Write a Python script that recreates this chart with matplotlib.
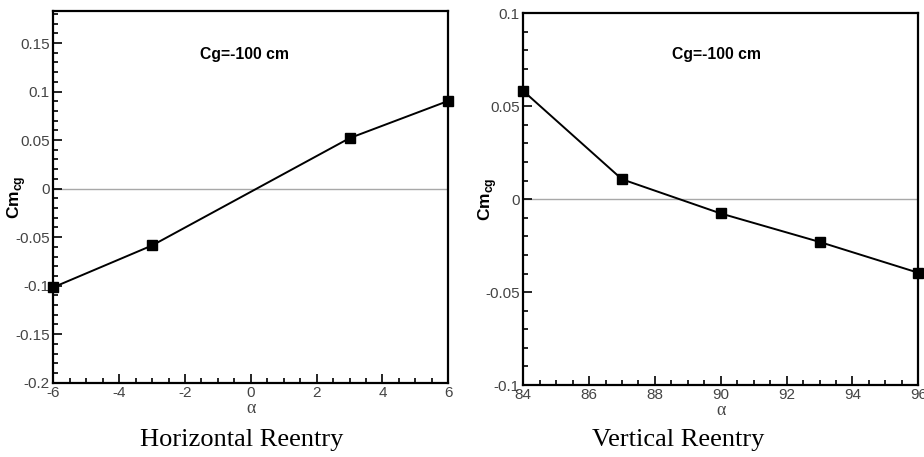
import matplotlib
matplotlib.use("Agg")
import matplotlib.pyplot as plt
from matplotlib.ticker import MultipleLocator, FuncFormatter

# Data
h_alpha = [-6, -3, 3, 6]
h_cm = [-0.1017, -0.0586, 0.052, 0.0904]
v_alpha = [84, 87, 90, 93, 96]
v_cm = [0.0582, 0.0107, -0.0077, -0.023, -0.0396]

plt.rcParams['font.family'] = ['Liberation Sans', 'DejaVu Sans']
plt.rcParams['axes.unicode_minus'] = False
plt.rcParams['mathtext.fontset'] = 'custom'
plt.rcParams['mathtext.rm'] = 'Liberation Sans'
plt.rcParams['mathtext.bf'] = 'Liberation Sans:bold'

fig = plt.figure(figsize=(9.24, 4.57), dpi=100)

def fmt(v, pos):
    s = '%g' % round(v, 6)
    if s == '-0':
        s = '0'
    return s

panels = [
    dict(rect=[0.0577, 0.1626, 0.4275, 0.8133], x=h_alpha, y=h_cm,
         xlim=(-6, 6), ylim=(-0.2, 0.183), xmaj=2, xmin=0.5,
         caption='Horizontal Reentry', cap_x=242, txt_x=245, txt_y=54, lab_off=25),
    dict(rect=[0.5663, 0.1575, 0.4275, 0.8134], x=v_alpha, y=v_cm,
         xlim=(84, 96), ylim=(-0.1, 0.1), xmaj=2, xmin=0.5,
         caption='Vertical Reentry', cap_x=678, txt_x=716, txt_y=55, lab_off=24),
]

W, H = 924, 457
for p in panels:
    ax = fig.add_axes(p['rect'])
    ax.axhline(0, color='#a8a8a8', lw=1.0, zorder=1)
    ax.plot(p['x'], p['y'], color='black', lw=1.4, marker='s', ms=6.5,
            clip_on=False, zorder=3)
    ax.set_xlim(*p['xlim'])
    ax.set_ylim(*p['ylim'])
    ax.xaxis.set_major_locator(MultipleLocator(p['xmaj']))
    ax.xaxis.set_minor_locator(MultipleLocator(p['xmin']))
    ax.yaxis.set_major_locator(MultipleLocator(0.05))
    ax.yaxis.set_minor_locator(MultipleLocator(0.01))
    ax.xaxis.set_major_formatter(FuncFormatter(fmt))
    ax.yaxis.set_major_formatter(FuncFormatter(fmt))
    ax.tick_params(which='both', direction='in', top=False, right=False,
                   colors='black', labelcolor='#444444', labelsize=11, width=1.2)
    ax.tick_params(which='major', length=6.5, pad=2.5)
    ax.tick_params(which='minor', length=3.5)
    for s in ax.spines.values():
        s.set_linewidth(1.6)
    ax.set_ylabel(r'$\mathbf{Cm}_{\mathbf{cg}}$', fontsize=12.5)
    ax.yaxis.set_label_coords(-p['lab_off'] / (0.4275 * W), 0.5)
    ax.set_xlabel('α', family=['Liberation Serif'], fontsize=13, color='#444444', labelpad=0)
    fig.text(p['txt_x'] / W, 1 - p['txt_y'] / H, 'Cg=-100 cm', fontsize=11.3,
             fontweight='bold', ha='center', va='center')
    fig.text(p['cap_x'] / W, 1 - 440 / H, p['caption'], family=['Liberation Serif'],
             fontsize=19, ha='center', va='center')

fig.savefig('out.png', dpi=100)
